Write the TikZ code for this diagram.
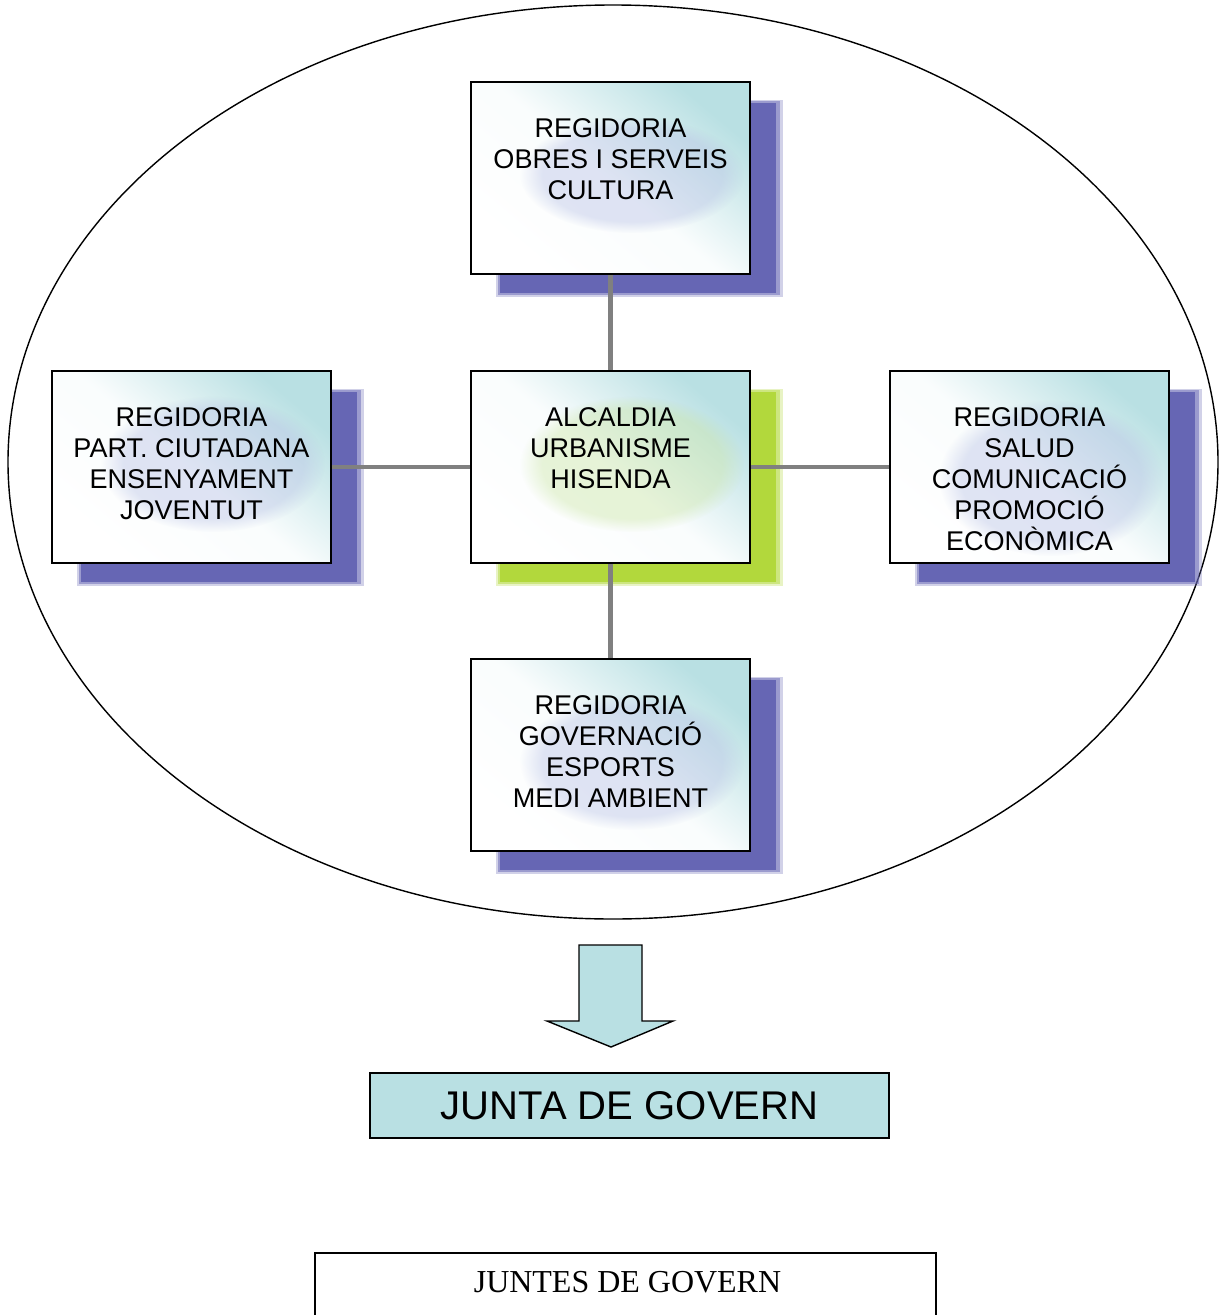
\documentclass[tikz,border=0pt]{standalone}
\usepackage{fontspec}
\setmainfont{Liberation Sans}
\newfontfamily\serifjuntes{Liberation Serif}
\usepackage{tikz}
\usetikzlibrary{shadows,fadings}

\definecolor{boxteal}{RGB}{185,224,227}
\definecolor{shadowblue}{RGB}{102,102,180}
\definecolor{shadowgreen}{RGB}{178,216,60}
\definecolor{blobblue}{RGB}{180,190,228}
\definecolor{blobgreen}{RGB}{200,228,160}
\definecolor{linegray}{RGB}{128,128,128}

\begin{document}
\begin{tikzpicture}[x=0.02cm, y=-0.02cm,
    box/.style={draw, line width=1.1pt, minimum width=5.58cm, minimum height=3.84cm, inner sep=0pt,
        top color=boxteal, bottom color=white, middle color=white!92!boxteal, shading angle=-40},
    blueshade/.style={drop shadow={shadow xshift=0.56cm, shadow yshift=-0.4cm, shadow scale=1.03, fill=shadowblue, opacity=0.3},
        drop shadow={shadow xshift=0.56cm, shadow yshift=-0.4cm, shadow scale=1.012, fill=shadowblue, opacity=0.5},
        drop shadow={shadow xshift=0.56cm, shadow yshift=-0.4cm, shadow scale=0.99, fill=shadowblue, opacity=1}},
    greenshade/.style={drop shadow={shadow xshift=0.56cm, shadow yshift=-0.4cm, shadow scale=1.03, fill=shadowgreen, opacity=0.3},
        drop shadow={shadow xshift=0.56cm, shadow yshift=-0.4cm, shadow scale=1.012, fill=shadowgreen, opacity=0.5},
        drop shadow={shadow xshift=0.56cm, shadow yshift=-0.4cm, shadow scale=0.99, fill=shadowgreen, opacity=1}},
    blob/.style={path fading=circle with fuzzy edge 20 percent, fill opacity=0.4},
    boxtext/.style={align=center, inner sep=0pt, anchor=north, font=\fontsize{15.4}{17.6}\selectfont},
    conn/.style={draw=linegray, line width=2.3pt}]

    \useasboundingbox (0,0) rectangle (1219,1315);

    \draw[line width=0.8pt] (613,462) ellipse (605 and 457);

    \node[box, blueshade] (obres) at (610.5,178) {};
    \node[box, blueshade] (partcit) at (191.5,467) {};
    \node[box, greenshade] (alcaldia) at (610.5,467) {};
    \node[box, blueshade] (salud) at (1029.5,467) {};
    \node[box, blueshade] (governacio) at (610.5,755) {};

    \fill[blobblue, blob] (632,175) ellipse (112 and 58);
    \fill[blobblue, blob] (213,464) ellipse (112 and 68);
    \fill[blobgreen, blob] (632,464) ellipse (112 and 68);
    \fill[blobblue, blob] (1051,478) ellipse (112 and 78);
    \fill[blobblue, blob] (632,762) ellipse (112 and 68);

    \draw[conn] (obres) -- (alcaldia);
    \draw[conn] (partcit) -- (alcaldia);
    \draw[conn] (alcaldia) -- (salud);
    \draw[conn] (alcaldia) -- (governacio);

    \node[boxtext] (obrestxt) at (610.5,118.5) {REGIDORIA\\OBRES I SERVEIS\\CULTURA};
    \node[boxtext] (partcittxt) at (191.5,407.5) {REGIDORIA\\PART. CIUTADANA\\ENSENYAMENT\\JOVENTUT};
    \node[boxtext] (alcaldiatxt) at (610.5,407.5) {ALCALDIA\\URBANISME\\HISENDA};
    \node[boxtext] (saludtxt) at (1029.5,407.5) {REGIDORIA\\SALUD\\COMUNICACIÓ\\PROMOCIÓ\\ECONÒMICA};
    \node[boxtext] (governaciotxt) at (610.5,695.5) {REGIDORIA\\GOVERNACIÓ\\ESPORTS\\MEDI AMBIENT};

    \draw[line width=0.8pt, fill=boxteal] (579,945) -- (642,945) -- (642,1021) -- (673,1021)
        -- (611,1047) -- (547,1021) -- (579,1021) -- cycle;

    \node[draw, line width=1.1pt, fill=boxteal, minimum width=10.38cm, minimum height=1.3cm,
        font=\fontsize{22.8}{26}\selectfont] (junta) at (629.5,1105.5) {JUNTA DE GOVERN};

    \draw[line width=0.9pt] (315,1340) |- (936,1253) -- (936,1340);
    \node[font=\serifjuntes\fontsize{18.2}{20}\selectfont] (juntes) at (627.5,1282) {JUNTES DE GOVERN};
\end{tikzpicture}
\end{document}
